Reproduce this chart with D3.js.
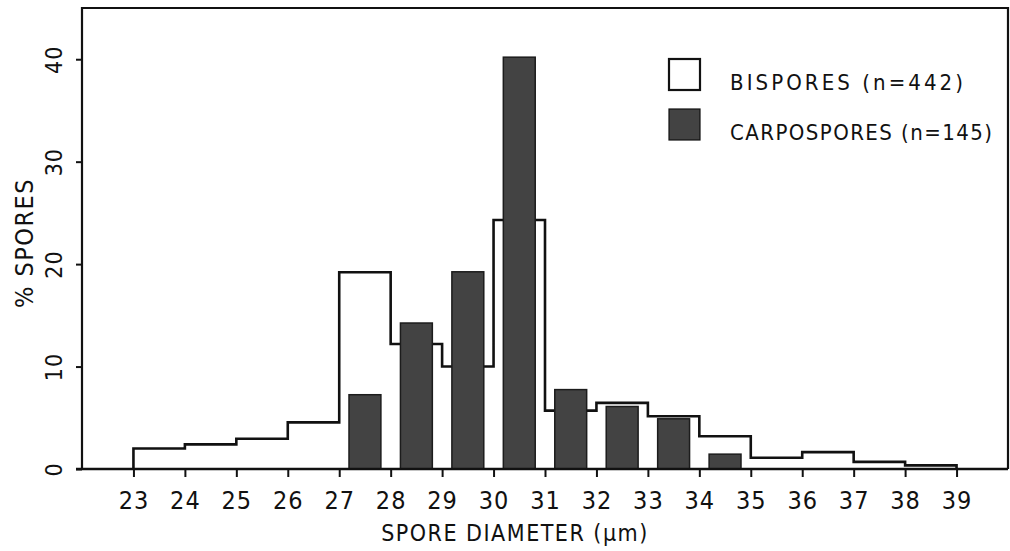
<!DOCTYPE html>
<html>
<head>
<meta charset="utf-8">
<script src="https://cdn.jsdelivr.net/npm/d3@7"></script>
<style>
  html, body { margin: 0; padding: 0; background: #fff; }
  svg { display: block; }
  text { font-family: "Liberation Sans Narrow", "DejaVu Sans Condensed", "Liberation Sans", sans-serif; fill: #111; }
</style>
</head>
<body>
<svg id="chart" width="1010" height="551"></svg>
<script>
// Lower edge (µm) of each 1-µm diameter class
const bisporeBins = [23, 24, 25, 26, 27, 28, 29, 30, 31, 32, 33, 34, 35, 36, 37, 38];
// % of bispores in each class (n = 442)
const bisporeValues = [2.0, 2.4, 2.95, 4.55, 19.2, 12.2, 10.0, 24.3, 5.7, 6.45, 5.15, 3.2, 1.1, 1.65, 0.7, 0.35];
// Classes holding carpospores, and their % (n = 145)
const carpoBins = [27, 28, 29, 30, 31, 32, 33, 34];
const carpoValues = [7.25, 14.25, 19.25, 40.2, 7.75, 6.1, 4.9, 1.45];
// Axis ticks
const xTicks = [23, 24, 25, 26, 27, 28, 29, 30, 31, 32, 33, 34, 35, 36, 37, 38, 39];
const yTicks = [0, 10, 20, 30, 40];
// Legend entries
const legendLabels = ["BISPORES (n=442)", "CARPOSPORES (n=145)"];

(function draw() {
  const svg = d3.select("#chart");
  const mLeft = 82, mRight = 1008, mTop = 8, mBottom = 469;

  const x = d3.scaleLinear().domain([22, 40]).range([mLeft, mRight]);
  const y = d3.scaleLinear().domain([0, 45]).range([mBottom, mTop]);

  const ink = "#111";
  const barFill = "#434343";

  // Frame: left, top and right sides
  svg.append("path")
    .attr("d", `M${mLeft},${mBottom}V${mTop}H${mRight}V${mBottom}`)
    .attr("fill", "none").attr("stroke", ink).attr("stroke-width", 2.2);

  // X axis
  const xAxis = svg.append("g")
    .attr("transform", `translate(0,${mBottom})`)
    .call(d3.axisBottom(x).tickValues(xTicks).tickSize(8).tickSizeOuter(0).tickPadding(14).tickFormat(d3.format("d")));
  xAxis.attr("font-family", null);
  xAxis.select(".domain").remove();
  xAxis.selectAll(".tick line").attr("stroke", ink).attr("stroke-width", 2);
  xAxis.selectAll(".tick text")
    .attr("font-size", 25).attr("fill", ink)
    .attr("letter-spacing", 1);

  // Y axis with rotated tick labels
  const yAxis = svg.append("g")
    .attr("transform", `translate(${mLeft},0)`)
    .call(d3.axisLeft(y).tickValues(yTicks).tickSize(6).tickSizeOuter(0).tickFormat(d3.format("d")));
  yAxis.attr("font-family", null);
  yAxis.select(".domain").remove();
  yAxis.selectAll(".tick line").attr("stroke", ink).attr("stroke-width", 2);
  yAxis.selectAll(".tick text")
    .attr("font-size", 23).attr("fill", ink)
    .attr("letter-spacing", 1)
    .attr("x", null).attr("dy", null)
    .attr("text-anchor", "middle")
    .attr("transform", "translate(-20,0) rotate(-90)");

  // Bispores: stepped outline
  const last = bisporeBins.length - 1;
  const stepPts = [[bisporeBins[0], 0]]
    .concat(bisporeBins.map((b, i) => [b, bisporeValues[i]]))
    .concat([[bisporeBins[last] + 1, bisporeValues[last]], [bisporeBins[last] + 1, 0]]);
  svg.append("path")
    .datum(stepPts)
    .attr("d", d3.line().x(d => x(d[0])).y(d => y(d[1])).curve(d3.curveStepAfter))
    .attr("fill", "none").attr("stroke", ink).attr("stroke-width", 2.6);

  // Carpospores: filled bars centred in each class
  svg.append("g").selectAll("rect")
    .data(carpoBins.map((b, i) => ({ b, v: carpoValues[i] })))
    .join("rect")
    .attr("x", d => x(d.b + 0.19))
    .attr("width", d => x(d.b + 0.81) - x(d.b + 0.19))
    .attr("y", d => y(d.v))
    .attr("height", d => y(0) - y(d.v))
    .attr("fill", barFill).attr("stroke", "#1c1c1c").attr("stroke-width", 1.5);

  // Baseline, drawn over bar bottoms
  svg.append("line")
    .attr("x1", mLeft - 6).attr("x2", mRight)
    .attr("y1", mBottom).attr("y2", mBottom)
    .attr("stroke", ink).attr("stroke-width", 2.4);

  // Axis titles
  svg.append("text")
    .attr("x", 515).attr("y", 541)
    .attr("text-anchor", "middle")
    .attr("font-size", 23).attr("letter-spacing", 1.5)
    .text("SPORE DIAMETER (µm)");
  svg.append("text")
    .attr("transform", "translate(33,243) rotate(-90)")
    .attr("text-anchor", "middle")
    .attr("font-size", 25).attr("letter-spacing", 1.5)
    .text("% SPORES");

  // Legend
  const legendWidths = [233, 262];
  const legend = svg.append("g");
  legendLabels.forEach((label, i) => {
    const ly = 59 + i * 50;
    legend.append("rect")
      .attr("x", 669).attr("y", ly).attr("width", 31).attr("height", 31)
      .attr("fill", i === 0 ? "#fff" : barFill)
      .attr("stroke", ink).attr("stroke-width", i === 0 ? 2.2 : 1.2);
    legend.append("text")
      .attr("x", 730).attr("y", ly + 31)
      .attr("font-size", 22)
      .attr("textLength", legendWidths[i])
      .attr("lengthAdjust", "spacing")
      .text(label);
  });
})();
</script>
</body>
</html>
